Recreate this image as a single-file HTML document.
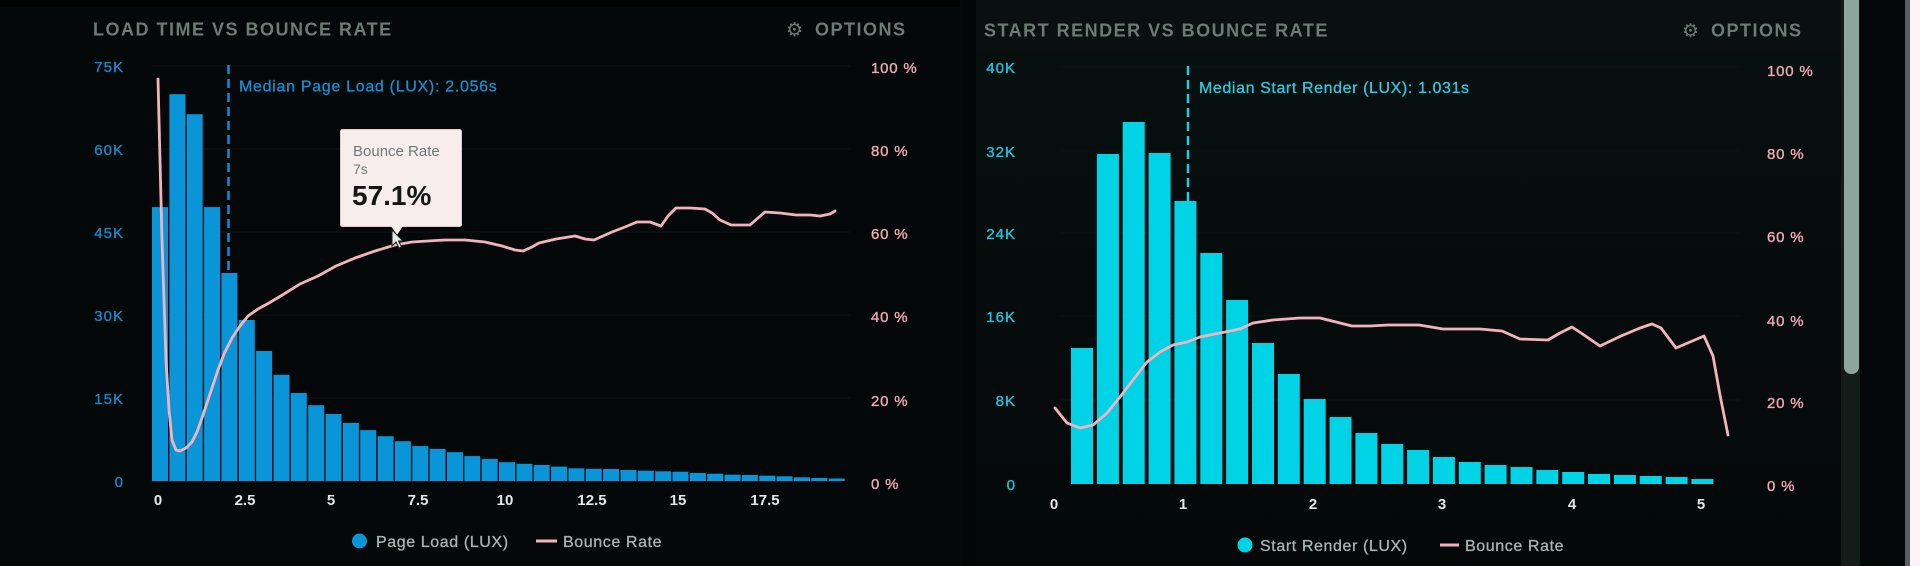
<!DOCTYPE html>
<html>
<head>
<meta charset="utf-8">
<style>
html,body{margin:0;padding:0;background:#040808;}
body{width:1920px;height:566px;overflow:hidden;}
svg{display:block;}
text{font-family:"Liberation Sans",sans-serif;}
.title{font-size:18px;font-weight:bold;fill:#6f7a74;letter-spacing:1.5px;}
.yl{font-size:15px;fill:#1589cb;stroke:#1589cb;stroke-width:0.35px;letter-spacing:1px;}
.yr{font-size:15px;fill:#efa9b8;stroke:#efa9b8;stroke-width:0.35px;letter-spacing:0.8px;}
.yc{font-size:15px;fill:#20c4dc;stroke:#20c4dc;stroke-width:0.35px;letter-spacing:1px;}
.xl{font-size:15px;font-weight:bold;fill:#e6e8e8;}
.leg{font-size:16px;fill:#a9b5b0;stroke:#a9b5b0;stroke-width:0.3px;letter-spacing:0.6px;}
</style>
</head>
<body>
<svg width="1920" height="566" viewBox="0 0 1920 566" xmlns="http://www.w3.org/2000/svg">
  <defs>
    <linearGradient id="rp" x1="0" y1="0" x2="0" y2="1">
      <stop offset="0" stop-color="#081010"/>
      <stop offset="0.6" stop-color="#060b0b"/>
      <stop offset="1" stop-color="#040808"/>
    </linearGradient>
  </defs>
  <!-- background -->
  <rect x="0" y="0" width="1920" height="566" fill="#040808"/>
  <rect x="0" y="0" width="960" height="7" fill="#020404"/>
  <rect x="962" y="0" width="14" height="566" fill="#030606"/>
  <rect x="976" y="0" width="865" height="566" fill="url(#rp)"/>
  <rect x="976" y="0" width="865" height="52" fill="#0a1010"/>

  <!-- faint grid -->
  <g stroke="#0c1313" stroke-width="1">
    <line x1="152" y1="66" x2="850" y2="66"/>
    <line x1="152" y1="149" x2="850" y2="149"/>
    <line x1="152" y1="232" x2="850" y2="232"/>
    <line x1="152" y1="315" x2="850" y2="315"/>
    <line x1="152" y1="398" x2="850" y2="398"/>
    <line x1="1060" y1="67" x2="1740" y2="67"/>
    <line x1="1060" y1="151" x2="1740" y2="151"/>
    <line x1="1060" y1="233" x2="1740" y2="233"/>
    <line x1="1060" y1="316" x2="1740" y2="316"/>
    <line x1="1060" y1="400" x2="1740" y2="400"/>
  </g>

  <!-- ================= LEFT CHART ================= -->
  <text class="title" x="93" y="35.5">LOAD TIME VS BOUNCE RATE</text>
  <text x="786" y="36" font-family="DejaVu Sans, sans-serif" font-size="19" fill="#6f7a74">⚙</text>
  <text class="title" x="815" y="35.5">OPTIONS</text>

  <!-- left y labels -->
  <g class="yl" text-anchor="end">
    <text x="124" y="72">75K</text>
    <text x="124" y="155">60K</text>
    <text x="124" y="238">45K</text>
    <text x="124" y="321">30K</text>
    <text x="124" y="404">15K</text>
    <text x="124" y="487">0</text>
  </g>
  <g class="yr">
    <text x="871" y="73">100 %</text>
    <text x="871" y="156">80 %</text>
    <text x="871" y="239">60 %</text>
    <text x="871" y="322">40 %</text>
    <text x="871" y="406">20 %</text>
    <text x="871" y="489">0 %</text>
  </g>

  <!-- median line -->
  <line x1="228.5" y1="65" x2="228.5" y2="481" stroke="#0f8fd3" stroke-width="2.5" stroke-dasharray="9,5"/>
  <text x="239" y="91.5" font-size="16" fill="#1590d3" stroke="#1590d3" stroke-width="0.3" letter-spacing="0.7">Median Page Load (LUX): 2.056s</text>

  <!-- left bars -->
  <g fill="#0b95d9">
    <rect x="152.0" y="207.1" width="16" height="273.9"/>
    <rect x="169.4" y="94.2" width="16" height="386.8"/>
    <rect x="186.7" y="114.2" width="16" height="366.8"/>
    <rect x="204.1" y="207.1" width="16" height="273.9"/>
    <rect x="221.4" y="273.0" width="16" height="208.0"/>
    <rect x="238.8" y="320.0" width="16" height="161.0"/>
    <rect x="256.1" y="351.0" width="16" height="130.0"/>
    <rect x="273.5" y="374.8" width="16" height="106.2"/>
    <rect x="290.8" y="393.0" width="16" height="88.0"/>
    <rect x="308.2" y="405.2" width="16" height="75.8"/>
    <rect x="325.5" y="414.0" width="16" height="67.0"/>
    <rect x="342.9" y="422.9" width="16" height="58.1"/>
    <rect x="360.2" y="430.1" width="16" height="50.9"/>
    <rect x="377.6" y="436.2" width="16" height="44.8"/>
    <rect x="394.9" y="441.2" width="16" height="39.8"/>
    <rect x="412.3" y="446.1" width="16" height="34.9"/>
    <rect x="429.6" y="448.9" width="16" height="32.1"/>
    <rect x="447.0" y="452.2" width="16" height="28.8"/>
    <rect x="464.3" y="456.1" width="16" height="24.9"/>
    <rect x="481.7" y="458.9" width="16" height="22.1"/>
    <rect x="499.0" y="462.2" width="16" height="18.8"/>
    <rect x="516.4" y="463.8" width="16" height="17.2"/>
    <rect x="533.7" y="465.0" width="16" height="16.0"/>
    <rect x="551.1" y="466.6" width="16" height="14.4"/>
    <rect x="568.4" y="468.3" width="16" height="12.7"/>
    <rect x="585.8" y="468.8" width="16" height="12.2"/>
    <rect x="603.1" y="469.0" width="16" height="12.0"/>
    <rect x="620.5" y="470.0" width="16" height="11.0"/>
    <rect x="637.8" y="470.7" width="16" height="10.3"/>
    <rect x="655.2" y="471.3" width="16" height="9.7"/>
    <rect x="672.5" y="471.7" width="16" height="9.3"/>
    <rect x="689.9" y="473.0" width="16" height="8.0"/>
    <rect x="707.2" y="473.7" width="16" height="7.3"/>
    <rect x="724.6" y="474.7" width="16" height="6.3"/>
    <rect x="741.9" y="475.0" width="16" height="6.0"/>
    <rect x="759.3" y="475.7" width="16" height="5.3"/>
    <rect x="776.6" y="476.3" width="16" height="4.7"/>
    <rect x="794.0" y="477.3" width="16" height="3.7"/>
    <rect x="811.3" y="478.0" width="16" height="3.0"/>
    <rect x="828.7" y="478.5" width="16" height="2.5"/>
  </g>

  <!-- left bounce line -->
  <polyline fill="none" stroke="#f2b3c0" stroke-width="2.8" stroke-linejoin="round" stroke-linecap="round"
    points="158,79 160,160 162,240 164,300 166,360 169,410 172,440 176,450 180,451 186,448 192,442 197,432 202,418 207,403 212,388 218,370 224,354 232,338 240,326 248,316 258,309 269,303 284,294 300,284 318,276 336,266 355,258 375,251 395,245 412,242 428,241 445,240 465,240 485,242 502,246 515,250 523,251 532,247 539,243 556,239 575,236 585,239 594,240 603,236 612,232 625,227 637,222 650,222 661,226 668,216 676,208 690,208 705,209 712,213 720,220 731,225 750,225 758,218 765,212 780,213 796,215 810,215 820,216 830,214 835,211"/>

  <!-- left x labels -->
  <g class="xl" text-anchor="middle">
    <text x="158" y="505">0</text>
    <text x="245" y="505">2.5</text>
    <text x="331" y="505">5</text>
    <text x="418" y="505">7.5</text>
    <text x="505" y="505">10</text>
    <text x="592" y="505">12.5</text>
    <text x="678" y="505">15</text>
    <text x="765" y="505">17.5</text>
  </g>

  <!-- left legend -->
  <circle cx="359.5" cy="541" r="7.5" fill="#0b95d9"/>
  <text class="leg" x="376" y="547">Page Load (LUX)</text>
  <line x1="536" y1="541" x2="557" y2="541" stroke="#f2b3c0" stroke-width="3"/>
  <text class="leg" x="563" y="547">Bounce Rate</text>

  <!-- tooltip -->
  <rect x="340.5" y="129.5" width="121" height="97" rx="2" fill="#f7eded" stroke="#e6c5cb" stroke-width="1"/>
  <polygon points="391,226 403,226 397,235" fill="#f7eded"/>
  <text x="353" y="156" font-size="15" fill="#6e7a77">Bounce Rate</text>
  <text x="353" y="174" font-size="14" fill="#6e7a77">7s</text>
  <text x="352" y="205" font-size="28" font-weight="bold" fill="#161616">57.1%</text>
  <!-- cursor -->
  <polygon points="392,230 392,246 396,242 399,248 401.5,247 398.5,241 403,241" fill="#e8e8e8" stroke="#222" stroke-width="1"/>

  <!-- ================= RIGHT CHART ================= -->
  <text class="title" x="984" y="36.5">START RENDER VS BOUNCE RATE</text>
  <text x="1682" y="37" font-family="DejaVu Sans, sans-serif" font-size="19" fill="#6f7a74">⚙</text>
  <text class="title" x="1711" y="36.5">OPTIONS</text>

  <g class="yc" text-anchor="end">
    <text x="1016" y="73">40K</text>
    <text x="1016" y="157">32K</text>
    <text x="1016" y="239">24K</text>
    <text x="1016" y="322">16K</text>
    <text x="1016" y="406">8K</text>
    <text x="1016" y="490">0</text>
  </g>
  <g class="yr">
    <text x="1767" y="76">100 %</text>
    <text x="1767" y="159">80 %</text>
    <text x="1767" y="242">60 %</text>
    <text x="1767" y="326">40 %</text>
    <text x="1767" y="408">20 %</text>
    <text x="1767" y="491">0 %</text>
  </g>

  <line x1="1188" y1="66" x2="1188" y2="484" stroke="#22cde0" stroke-width="2.5" stroke-dasharray="9,5"/>
  <text x="1199" y="93" font-size="16" fill="#2fcadf" stroke="#2fcadf" stroke-width="0.3" letter-spacing="0.6">Median Start Render (LUX): 1.031s</text>

  <g fill="#00d3e5">
    <rect x="1071.0" y="348" width="22" height="136"/>
    <rect x="1096.9" y="154" width="22" height="330"/>
    <rect x="1122.7" y="122" width="22" height="362"/>
    <rect x="1148.6" y="153" width="22" height="331"/>
    <rect x="1174.4" y="201" width="22" height="283"/>
    <rect x="1200.3" y="253" width="22" height="231"/>
    <rect x="1226.1" y="300" width="22" height="184"/>
    <rect x="1252.0" y="343" width="22" height="141"/>
    <rect x="1277.8" y="374" width="22" height="110"/>
    <rect x="1303.7" y="399" width="22" height="85"/>
    <rect x="1329.5" y="417" width="22" height="67"/>
    <rect x="1355.4" y="433" width="22" height="51"/>
    <rect x="1381.2" y="444" width="22" height="40"/>
    <rect x="1407.1" y="450" width="22" height="34"/>
    <rect x="1432.9" y="457" width="22" height="27"/>
    <rect x="1458.8" y="462" width="22" height="22"/>
    <rect x="1484.6" y="465" width="22" height="19"/>
    <rect x="1510.5" y="467" width="22" height="17"/>
    <rect x="1536.3" y="470" width="22" height="14"/>
    <rect x="1562.2" y="472" width="22" height="12"/>
    <rect x="1588.0" y="474" width="22" height="10"/>
    <rect x="1613.9" y="475" width="22" height="9"/>
    <rect x="1639.7" y="476" width="22" height="8"/>
    <rect x="1665.6" y="477" width="22" height="7"/>
    <rect x="1691.4" y="479" width="22" height="5"/>
  </g>

  <polyline fill="none" stroke="#f2b3c0" stroke-width="2.8" stroke-linejoin="round" stroke-linecap="round"
    points="1055,408 1067,423 1080,428 1093,425 1107,413 1120,397 1133,380 1147,362 1160,352 1173,345 1187,342 1200,337 1220,333 1240,329 1253,323 1273,320 1300,318 1320,318 1340,323 1352,326 1370,326 1388,325 1419,325 1443,329 1480,329 1502,331 1520,339 1548,340 1560,333 1572,327 1584,335 1600,346 1621,336 1640,328 1652,324 1661,328 1676,348 1690,342 1704,336 1713,356 1720,395 1728,435"/>

  <g class="xl" text-anchor="middle">
    <text x="1054" y="509">0</text>
    <text x="1183" y="509">1</text>
    <text x="1313" y="509">2</text>
    <text x="1442" y="509">3</text>
    <text x="1572" y="509">4</text>
    <text x="1701" y="509">5</text>
  </g>

  <circle cx="1245" cy="545" r="7.5" fill="#00d3e5"/>
  <text class="leg" x="1260" y="551">Start Render (LUX)</text>
  <line x1="1440" y1="545" x2="1459" y2="545" stroke="#f2b3c0" stroke-width="3"/>
  <text class="leg" x="1465" y="551">Bounce Rate</text>

  <!-- scrollbar / right edge -->
  <rect x="1841" y="0" width="19" height="566" fill="#141c1a"/>
  <rect x="1844" y="-8" width="15" height="382" rx="7" fill="#8ea59d"/>
  <rect x="1860" y="0" width="45" height="566" fill="#030707"/>
  <rect x="1905" y="0" width="5" height="566" fill="#56625f"/>
  <rect x="1910" y="0" width="10" height="566" fill="#fbf3f5"/>
</svg>
</body>
</html>
